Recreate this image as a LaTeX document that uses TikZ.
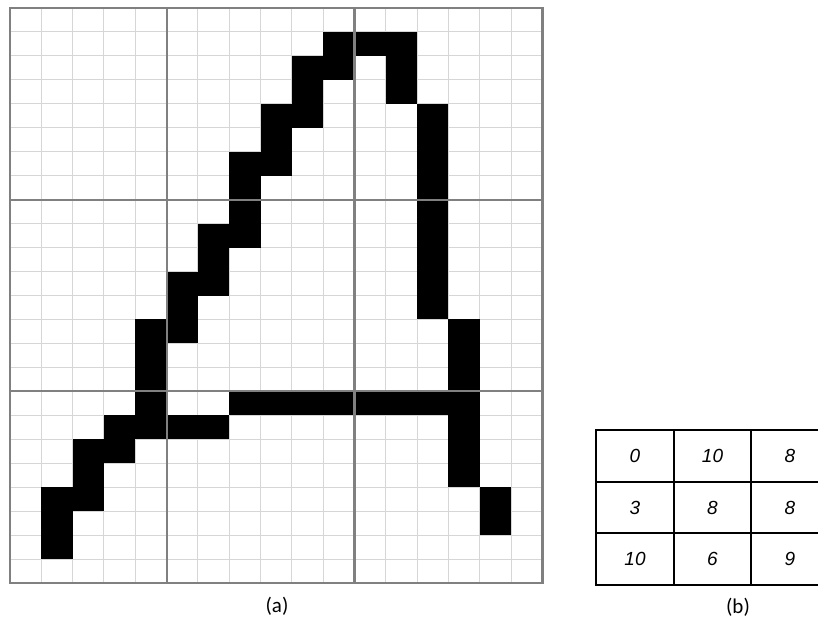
\documentclass[tikz,border=0pt]{standalone}
\usepackage{fontspec}
\setmainfont{Carlito}
\newfontfamily\arialfont{Liberation Sans}
\begin{document}
\begin{tikzpicture}[x=1pt,y=-1pt,
  gridline/.style={draw=black!16, line width=1pt},
  zoneline/.style={draw=black!50, line width=2.2pt},
  pixel/.style={fill=black},
  tableline/.style={draw=black, line width=1.8pt},
  cellnum/.style={font=\fontsize{19}{22}\arialfont\itshape\selectfont, anchor=center, inner sep=0pt},
  captiontext/.style={font=\fontsize{21}{25}\selectfont, anchor=center, inner sep=0pt}]
\useasboundingbox (0,0) rectangle (818,621);
\clip (0,0) rectangle (818,621);
\fill[white] (0,0) rectangle (818,621);
\def\gx{10}\def\gy{8}\def\cw{31.32}\def\ch{23.96}
% thin grid
\foreach \i in {1,...,16} \draw[gridline] ({\gx+\i*\cw},\gy) -- ({\gx+\i*\cw},{\gy+24*\ch});
\foreach \j in {1,...,23} \draw[gridline] (\gx,{\gy+\j*\ch}) -- ({\gx+17*\cw},{\gy+\j*\ch});
% black pixels
\foreach \c/\r in {10/1,10/2,9/2,9/3,9/4,8/4,8/5,8/6,7/6,7/7,
  11/1,12/1,12/2,12/3,13/4,13/5,13/6,13/7,
  4/13,4/14,4/15,
  7/8,7/9,6/9,6/10,6/11,5/11,5/12,5/13,
  13/8,13/9,13/10,13/11,13/12,14/13,14/14,14/15,
  4/16,4/17,3/17,3/18,2/18,2/19,2/20,1/20,1/21,1/22,
  7/16,8/16,9/16,10/16,5/17,6/17,
  11/16,12/16,13/16,14/16,14/17,14/18,14/19,15/20,15/21}
  \fill[pixel] ({\gx+\c*\cw},{\gy+\r*\ch}) rectangle ++(\cw,\ch);
% zone lines
\draw[zoneline] (\gx,\gy) rectangle ({\gx+17*\cw},{\gy+24*\ch});
\draw[zoneline] ({\gx+5*\cw},\gy) -- ({\gx+5*\cw},{\gy+24*\ch});
\draw[zoneline] ({\gx+11*\cw},\gy) -- ({\gx+11*\cw},{\gy+24*\ch});
\draw[zoneline] (\gx,{\gy+8*\ch}) -- ({\gx+17*\cw},{\gy+8*\ch});
\draw[zoneline] (\gx,{\gy+16*\ch}) -- ({\gx+17*\cw},{\gy+16*\ch});
% table (b)
\draw[tableline] (596,430) rectangle (829,585);
\draw[tableline] (674,430) -- (674,585);
\draw[tableline] (751,430) -- (751,585);
\draw[tableline] (596,481.7) -- (829,481.7);
\draw[tableline] (596,533.3) -- (829,533.3);
\node[cellnum] (t11) at (635,456) {0};
\node[cellnum] (t12) at (712.5,456) {10};
\node[cellnum] (t13) at (790,456) {8};
\node[cellnum] (t21) at (635,507.5) {3};
\node[cellnum] (t22) at (712.5,507.5) {8};
\node[cellnum] (t23) at (790,507.5) {8};
\node[cellnum] (t31) at (635,559) {10};
\node[cellnum] (t32) at (712.5,559) {6};
\node[cellnum] (t33) at (790,559) {9};
% captions
\node[captiontext] (capa) at (277,606) {(a)};
\node[captiontext] (capb) at (738,607) {(b)};
\end{tikzpicture}
\end{document}
